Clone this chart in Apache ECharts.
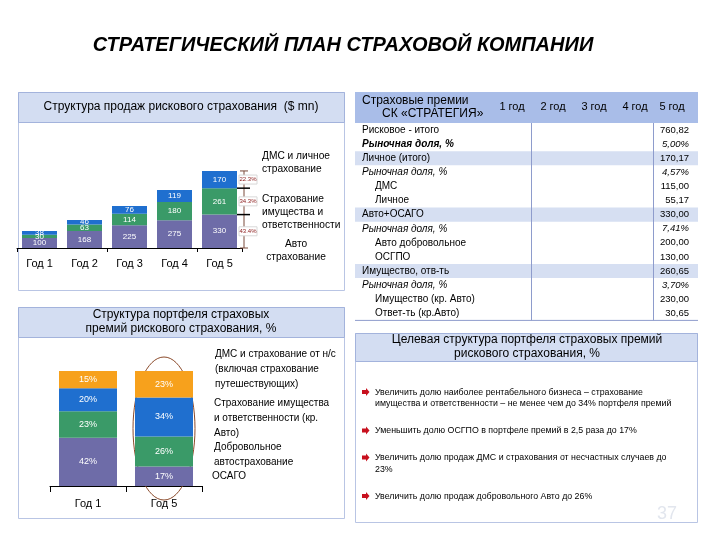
<!DOCTYPE html>
<html><head><meta charset="utf-8">
<script src="https://cdn.jsdelivr.net/npm/echarts@6/dist/echarts.min.js"></script>
<style>html,body{margin:0;padding:0;background:#fff}#c{width:720px;height:540px}</style>
</head><body><div id="c"></div>
<script>
// ---------- DATA ----------
const slideTitle = 'СТРАТЕГИЧЕСКИЙ ПЛАН СТРАХОВОЙ КОМПАНИИ';

const salesTitle = 'Структура продаж рискового страхования  ($ mn)';
const salesYears = ['Год 1', 'Год 2', 'Год 3', 'Год 4', 'Год 5'];
const autoSales = [100, 168, 225, 275, 330];
const propertySales = [30, 63, 114, 180, 261];
const personalSales = [38, 46, 76, 119, 170];
const salesShareLabels = ['43.4%', '34.3%', '22.3%']; // auto, property, personal (Год 5)
const salesLegend = ['ДМС и личное\nстрахование', 'Страхование\nимущества и\nответственности', 'Авто\nстрахование'];

const portfolioTitle = 'Структура портфеля страховых\nпремий рискового страхования, %';
const portfolioYears = ['Год 1', 'Год 5'];
const osagoShare = [42, 17];
const autoVolShare = [23, 26];
const propertyShare = [20, 34];
const dmsShare = [15, 23];
const portfolioLegend = ['ДМС и страхование от н/с\n(включая страхование\nпутешествующих)',
  'Страхование имущества\nи ответственности (кр.\nАвто)',
  'Добровольное\nавтострахование', 'ОСАГО'];

const tableHeader = ['Страховые премии', 'СК «СТРАТЕГИЯ»', '1 год', '2 год', '3 год', '4 год', '5 год'];
const rowLabels = ['Рисковое - итого', 'Рыночная доля, %', 'Личное (итого)', 'Рыночная доля, %', 'ДМС', 'Личное',
  'Авто+ОСАГО', 'Рыночная доля, %', 'Авто добровольное', 'ОСГПО', 'Имущество, отв-ть', 'Рыночная доля, %',
  'Имущество (кр. Авто)', 'Ответ-ть (кр.Авто)'];
const rowValuesYear5 = ['760,82', '5,00%', '170,17', '4,57%', '115,00', '55,17', '330,00', '7,41%', '200,00', '130,00',
  '260,65', '3,70%', '230,00', '30,65'];
const rowKinds = ['total', 'shareBold', 'group', 'share', 'item', 'item', 'group', 'share', 'item', 'item',
  'group', 'share', 'item', 'item'];

const goalsTitle = 'Целевая структура портфеля страховых премий\nрискового страхования, %';
const goals = [
  'Увеличить долю наиболее рентабельного бизнеса – страхование\nимущества и ответственности – не менее чем до 34% портфеля премий',
  'Уменьшить долю ОСГПО в портфеле премий в 2,5 раза до 17%',
  'Увеличить долю продаж ДМС и страхования от несчастных случаев до\n23%',
  'Увеличить долю продаж добровольного Авто до 26%'
];
const pageNumber = '37';

// ---------- STYLE ----------
const FF = '"Liberation Sans", Arial, sans-serif';
const C_PURPLE = '#6e6ca8', C_GREEN = '#3a9a68', C_BLUE = '#1f6fcf', C_ORANGE = '#f7a11c';
const HEAD_BG = '#d3ddf2', HEAD_BORDER = '#a3b3dc', PANEL_BORDER = '#b9c5e4';

const chart = echarts.init(document.getElementById('c'), null, {renderer: 'canvas'});

function barSeries(name, data, color, xi, width, fmt, fs) {
  return {
    name, type: 'bar', stack: 's' + xi, data, xAxisIndex: xi, yAxisIndex: xi, barWidth: width,
    itemStyle: {color}, animation: false,
    label: {show: true, position: 'inside', color: '#fff', fontSize: fs, fontFamily: FF, formatter: fmt}
  };
}

chart.setOption({
  animation: false,
  backgroundColor: '#fff',
  grid: [
    {left: 17, top: 167, width: 225, height: 81},
    {left: 50, top: 371, width: 152, height: 115}
  ],
  xAxis: [
    {gridIndex: 0, type: 'category', data: salesYears,
      axisLine: {lineStyle: {color: '#000', width: 1}},
      axisTick: {show: true, interval: 1, length: 4, lineStyle: {color: '#000'}},
      axisLabel: {color: '#000', fontSize: 11, margin: 10, fontFamily: FF}},
    {gridIndex: 1, type: 'category', data: portfolioYears,
      axisLine: {lineStyle: {color: '#000', width: 1}},
      axisTick: {show: true, length: 6, lineStyle: {color: '#000'}},
      axisLabel: {color: '#000', fontSize: 11, margin: 12, fontFamily: FF}}
  ],
  yAxis: [
    {gridIndex: 0, type: 'value', min: 0, max: 800, show: false},
    {gridIndex: 1, type: 'value', min: 0, max: 100, show: false}
  ],
  series: [
    barSeries('Авто', autoSales, C_PURPLE, 0, 35, '{c}', 8),
    barSeries('Имущество', propertySales, C_GREEN, 0, 35, '{c}', 8),
    barSeries('ДМС', personalSales, C_BLUE, 0, 35, '{c}', 8),
    barSeries('ОСАГО', osagoShare, C_PURPLE, 1, 58, '{c}%', 9),
    barSeries('Добровольное авто', autoVolShare, C_GREEN, 1, 58, '{c}%', 9),
    barSeries('Имущество', propertyShare, C_BLUE, 1, 58, '{c}%', 9),
    barSeries('ДМС', dmsShare, C_ORANGE, 1, 58, '{c}%', 9)
  ]
});

// ---------- GRAPHICS ----------
const g = [];
function txt(text, x, y, o) {
  o = o || {};
  g.push({type: 'text', x, y, z: o.z || 5, silent: true,
    style: {text, font: (o.style || '') + ' ' + (o.size || 10) + 'px ' + FF, fill: o.fill || '#000',
      align: o.align || 'left', verticalAlign: o.va || 'middle',
      textAlign: o.align || 'left', textVerticalAlign: o.va || 'middle', lineHeight: o.lh}});
}
function rect(x, y, w, h, fill, stroke, z) {
  g.push({type: 'rect', shape: {x, y, width: w, height: h}, z: z || 0, silent: true,
    style: {fill: fill || 'none', stroke: stroke || 'none', lineWidth: 1}});
}
function line(x1, y1, x2, y2, color, w, z) {
  g.push({type: 'line', shape: {x1, y1, x2, y2}, z: z || 1, silent: true, style: {stroke: color, lineWidth: w || 1}});
}

// title
txt(slideTitle, 343, 45, {size: 20, style: 'italic bold', align: 'center'});

// panel 1
rect(18.5, 92.5, 326, 198, '#fff', PANEL_BORDER);
rect(18.5, 92.5, 326, 30, HEAD_BG, HEAD_BORDER);
txt(salesTitle, 181, 107, {size: 12, align: 'center'});

// panel 2
rect(18.5, 307.5, 326, 211, '#fff', PANEL_BORDER);
rect(18.5, 307.5, 326, 30, HEAD_BG, HEAD_BORDER);
txt(portfolioTitle, 181, 322, {size: 12, align: 'center', lh: 14});

// table
const tx0 = 355, tx1 = 698, rowTop = 123, rowH = 14.1;
rect(tx0, 92, tx1 - tx0, 31, '#a9bde8', null);
txt(tableHeader[0], 362, 101, {size: 12});
txt(tableHeader[1], 382, 114, {size: 12});
const colX = [512, 553, 594, 635, 672];
for (let i = 2; i < tableHeader.length; i++) txt(tableHeader[i], colX[i - 2], 107, {size: 11, align: 'center'});
rowLabels.forEach((lab, i) => {
  const k = rowKinds[i];
  const yc = rowTop + rowH * i + rowH / 2;
  if (k === 'group') rect(tx0, rowTop + rowH * i, tx1 - tx0, rowH, '#d6dff2', null);
  const st = k === 'shareBold' ? 'italic bold' : (k === 'share' ? 'italic' : '');
  txt(lab, k === 'item' ? 375 : 362, yc, {size: 10, style: st});
  txt(rowValuesYear5[i], 689, yc, {size: 9.5, align: 'right', style: (k === 'share' || k === 'shareBold') ? 'italic' : ''});
});
const tBottom = rowTop + rowH * rowLabels.length;
line(531.5, rowTop, 531.5, tBottom, '#8e9ccc', 1, 3);
line(653.5, rowTop, 653.5, tBottom, '#8e9ccc', 1, 3);
line(tx0, tBottom, tx1, tBottom, '#8e9ccc', 1, 3);

// panel 4 goals
rect(355.5, 333.5, 342, 189, '#fff', PANEL_BORDER);
rect(355.5, 333.5, 342, 28, HEAD_BG, HEAD_BORDER);
txt(goalsTitle, 527, 347, {size: 12, align: 'center', lh: 14});
let gy = 392;
goals.forEach(t => {
  g.push({type: 'polygon', z: 5, silent: true,
    shape: {points: [[362, gy - 2], [366, gy - 2], [366, gy - 4], [369.5, gy], [366, gy + 4], [366, gy + 2], [362, gy + 2]]},
    style: {fill: '#c8101e'}});
  const n = t.split('\n').length;
  txt(t, 375, gy - 5.5, {size: 8.8, va: 'top', lh: 11.5});
  gy += n * 11.5 + 15.5;
});
txt(pageNumber, 667, 514, {size: 18, fill: '#e2e6ee', align: 'center'});

// chart 1 annotations (bracket & shares for Год 5)
const segVals = [autoSales[4], propertySales[4], personalSales[4]];
let cum = 0;
const bounds = [chart.convertToPixel({gridIndex: 0}, [4, 0])[1]];
segVals.forEach(v => { cum += v; bounds.push(chart.convertToPixel({gridIndex: 0}, [4, cum])[1]); });
const barRight = chart.convertToPixel({gridIndex: 0}, [4, 0])[0] + 17.5;
const bx = barRight + 7;
line(bx, bounds[3], bx, bounds[0], '#7a4a3a', 1, 3);
line(bx - 4, bounds[0], bx + 4, bounds[0], '#7a4a3a', 1, 3);
line(bx - 4, bounds[3], bx + 4, bounds[3], '#7a4a3a', 1, 3);
line(barRight, bounds[1], bx + 6, bounds[1], '#000', 1.5, 3);
line(barRight, bounds[2], bx + 6, bounds[2], '#000', 1.5, 3);
salesShareLabels.forEach((s, i) => {
  const yc = (bounds[i] + bounds[i + 1]) / 2;
  rect(bx - 5, yc - 4.5, 18, 9, '#fff', '#d8d8d8', 4);
  txt(s, bx + 4, yc, {size: 6, fill: '#8b1a1a', align: 'center'});
});
txt(salesLegend[0], 262, 163, {size: 10.2, lh: 13});
txt(salesLegend[1], 262, 212, {size: 10.2, lh: 13});
txt(salesLegend[2], 296, 251, {size: 10.2, lh: 13, align: 'center'});

// chart 2 ellipse & legend
const pTop = chart.convertToPixel({gridIndex: 1}, [1, 100]);
const pBot = chart.convertToPixel({gridIndex: 1}, [1, 0]);
g.push({type: 'ellipse', z: 1, silent: true,
  shape: {cx: pTop[0], cy: (pTop[1] + pBot[1]) / 2, rx: 31, ry: (pBot[1] - pTop[1]) / 2 + 14},
  style: {fill: 'none', stroke: '#8b4a2a', lineWidth: 1}});
txt(portfolioLegend[0], 215, 369, {size: 10, lh: 15});
txt(portfolioLegend[1], 214, 418, {size: 10, lh: 15});
txt(portfolioLegend[2], 214, 455, {size: 10, lh: 15});
txt(portfolioLegend[3], 212, 476, {size: 10});

chart.setOption({graphic: {elements: g}});
</script></body></html>
